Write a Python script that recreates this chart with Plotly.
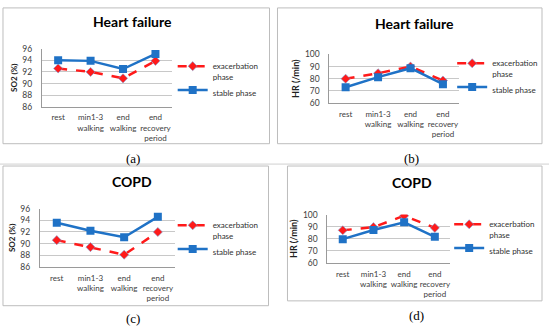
import plotly.graph_objects as go

W, H = 550, 334

categories = ["rest", "min1-3<br>walking", "end<br>walking", "end<br>recovery<br>period"]
series_names = ["exacerbation<br>phase", "stable phase"]

hf_so2_exac = [92.6, 92.0, 90.9, 93.9]
hf_so2_stable = [94.0, 93.9, 92.5, 95.1]
hf_hr_exac = [80.0, 84.5, 90.0, 78.5]
hf_hr_stable = [73.0, 81.3, 88.7, 75.5]
copd_so2_exac = [90.6, 89.4, 88.1, 92.0]
copd_so2_stable = [93.6, 92.2, 91.1, 94.6]
copd_hr_exac = [87.0, 89.6, 99.0, 89.0]
copd_hr_stable = [79.7, 87.3, 93.6, 81.6]

panel_titles = ["Heart failure", "Heart failure", "COPD", "COPD"]
panel_letters = ["(a)", "(b)", "(c)", "(d)"]
y_titles = ["SO2 (%)", "HR (/min)", "SO2 (%)", "HR (/min)"]
y_title_sizes = [8, 9, 8, 9]
so2_ticks = [86, 88, 90, 92, 94, 96]
hr_ticks = [60, 70, 80, 90, 100]

RED = "#ff1a1a"
BLUE = "#1f72c6"
FONT = "Lato"

def px(x):
    return x / W

def py(y):
    return 1 - y / H

panels = [
    dict(plot=(42, 172, 45, 105), box=(3, 3, 270, 143), title=(133, 17), legend=(173, 51), label=(133, 158),
         data=(hf_so2_exac, hf_so2_stable), rng=(86, 96), ticks=so2_ticks),
    dict(plot=(330, 460, 51, 101), box=(278, 3, 543, 143), title=(415, 19), legend=(453, 48), label=(412, 158),
         data=(hf_hr_exac, hf_hr_stable), rng=(60, 100), ticks=hr_ticks),
    dict(plot=(40, 175, 210, 270), box=(3, 166, 269, 310), title=(132, 182), legend=(173, 215), label=(133, 323),
         data=(copd_so2_exac, copd_so2_stable), rng=(86, 96), ticks=so2_ticks),
    dict(plot=(328, 451, 216, 266), box=(288, 166, 543, 305), title=(413, 183), legend=(450, 214), label=(417, 320),
         data=(copd_hr_exac, copd_hr_stable), rng=(60, 100), ticks=hr_ticks),
]

fig = go.Figure()
layout = dict(
    width=W, height=H, margin=dict(l=0, r=0, t=0, b=0),
    paper_bgcolor="white", plot_bgcolor="white",
    font=dict(family=FONT, color="#404040", size=8),
    shapes=[], annotations=[],
)

for i, p in enumerate(panels):
    n = "" if i == 0 else str(i + 1)
    xa, ya = "x" + n, "y" + n
    lg = "legend" + n
    exac, stable = p["data"]
    fig.add_trace(go.Scatter(
        x=categories, y=exac, xaxis=xa, yaxis=ya, name=series_names[0], legend=lg,
        mode="lines+markers",
        line=dict(color=RED, width=2.5, dash="dash"),
        marker=dict(symbol="diamond", size=7, color=RED, line=dict(color="#7a9fd6", width=0.6)),
    ))
    fig.add_trace(go.Scatter(
        x=categories, y=stable, xaxis=xa, yaxis=ya, name=series_names[1], legend=lg,
        mode="lines+markers",
        line=dict(color=BLUE, width=2.5),
        marker=dict(symbol="square", size=8, color=BLUE),
    ))
    x0, x1, yt, yb = p["plot"]
    layout["xaxis" + n] = dict(
        domain=[px(x0), px(x1)], anchor=ya, type="category", range=[-0.5, 3.5],
        showgrid=False, showline=True, linecolor="#9a9a9a", linewidth=1,
        ticks="", ticklabelstandoff=3, tickangle=0,
        tickfont=dict(size=8, color="#404040", family=FONT),
        fixedrange=True,
    )
    layout["yaxis" + n] = dict(
        domain=[py(yb), py(yt)], anchor=xa, range=list(p["rng"]), tickvals=p["ticks"],
        showgrid=True, gridcolor="#c8c8c8", gridwidth=1,
        showline=True, linecolor="#9a9a9a", linewidth=1, zeroline=False,
        ticks="", ticklabelstandoff=7, tickfont=dict(size=8.5, color="#404040", family=FONT),
        title=dict(text="<b>" + y_titles[i] + "</b>",
                   font=dict(size=y_title_sizes[i], color="#202020", family=FONT), standoff=3),
        fixedrange=True,
    )
    lx, ly = p["legend"]
    layout[lg] = dict(
        x=px(lx), y=py(ly), xanchor="left", yanchor="top", valign="top",
        bgcolor="rgba(0,0,0,0)", font=dict(size=8, color="#303030", family=FONT),
        tracegroupgap=0, itemwidth=30,
    )
    bx0, by0, bx1, by1 = p["box"]
    layout["shapes"].append(dict(
        type="rect", xref="paper", yref="paper", x0=px(bx0), x1=px(bx1), y0=py(by1), y1=py(by0),
        line=dict(color="#bdbdbd", width=1), layer="below",
    ))
    tx, ty = p["title"]
    layout["annotations"].append(dict(
        text="<b>" + panel_titles[i] + "</b>", x=px(tx), y=py(ty), xref="paper", yref="paper",
        xanchor="center", yanchor="middle", showarrow=False,
        font=dict(size=14, color="#000000", family=FONT),
    ))
    lbx, lby = p["label"]
    layout["annotations"].append(dict(
        text=panel_letters[i], x=px(lbx), y=py(lby), xref="paper", yref="paper",
        xanchor="center", yanchor="middle", showarrow=False,
        font=dict(size=13, color="#000000", family="Liberation Serif"),
    ))

layout["shapes"].append(dict(
    type="line", xref="paper", yref="paper", x0=0, x1=1, y0=py(164), y1=py(164),
    line=dict(color="#d0d0d0", width=1), layer="below",
))

fig.update_layout(**layout)
fig.write_html(
    "out.html",
    config={"displayModeBar": False},
    post_script="document.body.style.margin='0';document.body.style.overflow='hidden';",
)
